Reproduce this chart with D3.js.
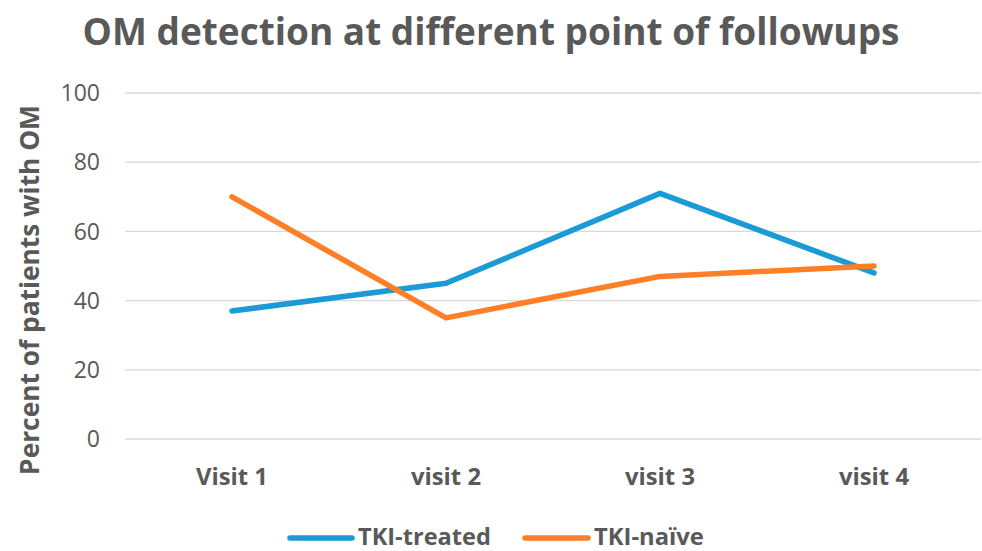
<!DOCTYPE html>
<html><head><meta charset="utf-8">
<script src="https://cdn.jsdelivr.net/npm/d3@7"></script>
<style>body{margin:0;background:#fff}svg{display:block}text{font-family:"Open Sans",sans-serif;}</style>
</head><body><svg id="c" width="982" height="551"></svg>
<script>
const categories = ["Visit 1","visit 2","visit 3","visit 4"];
const tkiTreated = [37,45,71,48];
const tkiNaive = [70,35,47,50];
const yTicks = [0,20,40,60,80,100];
const seriesNames = ["TKI-treated","TKI-naïve"];
const colors = ["#1a9bd7","#ff7f27"];

const svg = d3.select("#c");
const x = d3.scaleBand().domain(categories).range([125,981]);
const y = d3.scaleLinear().domain([0,100]).range([439,93]);
const grey = "#595959";

function fit(sel, w){ const n=sel.node(); const fs=parseFloat(sel.attr("font-size")); const l=n.getComputedTextLength(); sel.attr("font-size", fs*w/l); }

// gridlines
svg.append("g").selectAll("line").data(yTicks).join("line")
  .attr("x1",125).attr("x2",981).attr("y1",d=>y(d)).attr("y2",d=>y(d))
  .attr("stroke","#d9d9d9").attr("stroke-width",1.3);
// y tick labels
svg.append("g").selectAll("text").data(yTicks).join("text")
  .attr("x",100).attr("y",d=>y(d)).attr("dy","0.36em").attr("text-anchor","end")
  .attr("font-size",23).attr("fill",grey).text(d=>d);
// x labels
svg.append("g").selectAll("text").data(categories).join("text")
  .attr("x",d=>x(d)+x.bandwidth()/2).attr("y",485).attr("text-anchor","middle")
  .attr("font-size",23).attr("font-weight",700).attr("fill",grey).text(d=>d)
  .each(function(d,i){ if(i==0) fit(d3.select(this),72); });
svg.selectAll("g:nth-of-type(3) text").attr("font-size", function(){ return d3.select("g:nth-of-type(3) text").attr("font-size"); });
// title
const t = svg.append("text").attr("x",491).attr("y",45).attr("text-anchor","middle")
  .attr("font-size",36).attr("font-weight",700).attr("fill",grey)
  .text("OM detection at different point of followups");
fit(t,817);
// y axis title
const yt = svg.append("text").attr("transform","translate(39,290) rotate(-90)").attr("text-anchor","middle")
  .attr("font-size",23).attr("font-weight",700).attr("fill",grey).text("Percent of patients with OM");
fit(yt,370);

const line = d3.line().x((d,i)=>x(categories[i])+x.bandwidth()/2).y(d=>y(d));
[tkiTreated,tkiNaive].forEach((s,i)=>{
  svg.append("path").attr("d",line(s)).attr("fill","none").attr("stroke",colors[i])
    .attr("stroke-width",5.5).attr("stroke-linecap","round").attr("stroke-linejoin","round");
});
// legend
const lg = [{x1:290,x2:352,tx:358},{x1:525,x2:588,tx:594}];
seriesNames.forEach((n,i)=>{
  svg.append("line").attr("x1",lg[i].x1).attr("x2",lg[i].x2).attr("y1",538).attr("y2",538)
    .attr("stroke",colors[i]).attr("stroke-width",5.5).attr("stroke-linecap","round");
  const tt = svg.append("text").attr("x",lg[i].tx).attr("y",545).attr("font-size",21).attr("font-weight",700)
    .attr("fill",grey).text(n);
  fit(tt, i==0?133:110);
});
</script></body></html>
